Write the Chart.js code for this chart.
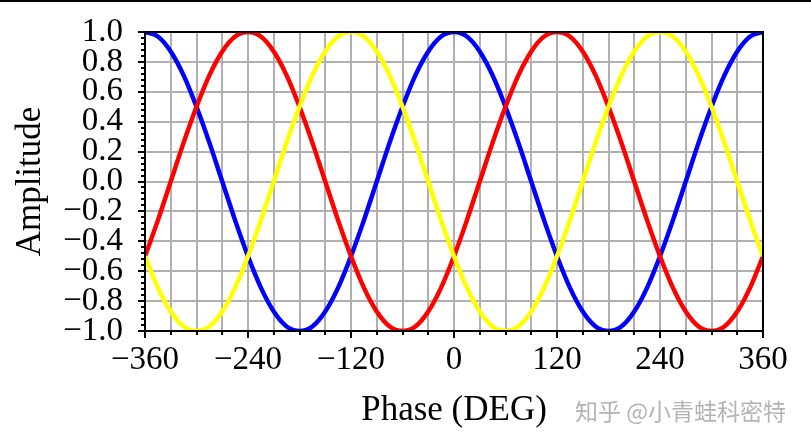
<!DOCTYPE html>
<html>
<head>
<meta charset="utf-8">
<script src="https://cdn.jsdelivr.net/npm/chart.js@4.4.1/dist/chart.umd.min.js"></script>
<style>
  html, body { margin: 0; padding: 0; background: #fff; }
  #wrap { width: 811px; height: 446px; }
</style>
</head>
<body>
<div id="wrap"><canvas id="c" width="811" height="446"></canvas></div>
<script>
// phase in degrees, one point every 15 deg
const phase = [-360, -345, -330, -315, -300, -285, -270, -255, -240, -225, -210, -195, -180,
  -165, -150, -135, -120, -105, -90, -75, -60, -45, -30, -15, 0,
  15, 30, 45, 60, 75, 90, 105, 120, 135, 150, 165, 180,
  195, 210, 225, 240, 255, 270, 285, 300, 315, 330, 345, 360];

const blueWave = [1, 0.97, 0.87, 0.71, 0.5, 0.26, 0, -0.26, -0.5, -0.71, -0.87, -0.97, -1,
  -0.97, -0.87, -0.71, -0.5, -0.26, 0, 0.26, 0.5, 0.71, 0.87, 0.97, 1,
  0.97, 0.87, 0.71, 0.5, 0.26, 0, -0.26, -0.5, -0.71, -0.87, -0.97, -1,
  -0.97, -0.87, -0.71, -0.5, -0.26, 0, 0.26, 0.5, 0.71, 0.87, 0.97, 1];

const redWave = [-0.5, -0.26, 0, 0.26, 0.5, 0.71, 0.87, 0.97, 1, 0.97, 0.87, 0.71, 0.5,
  0.26, 0, -0.26, -0.5, -0.71, -0.87, -0.97, -1, -0.97, -0.87, -0.71, -0.5,
  -0.26, 0, 0.26, 0.5, 0.71, 0.87, 0.97, 1, 0.97, 0.87, 0.71, 0.5,
  0.26, 0, -0.26, -0.5, -0.71, -0.87, -0.97, -1, -0.97, -0.87, -0.71, -0.5];

const yellowWave = [-0.5, -0.71, -0.87, -0.97, -1, -0.97, -0.87, -0.71, -0.5, -0.26, 0, 0.26, 0.5,
  0.71, 0.87, 0.97, 1, 0.97, 0.87, 0.71, 0.5, 0.26, 0, -0.26, -0.5,
  -0.71, -0.87, -0.97, -1, -0.97, -0.87, -0.71, -0.5, -0.26, 0, 0.26, 0.5,
  0.71, 0.87, 0.97, 1, 0.97, 0.87, 0.71, 0.5, 0.26, 0, -0.26, -0.5];

const xMajorTicks = [-360, -240, -120, 0, 120, 240, 360];
const yMajorTicks = [-1.0, -0.8, -0.6, -0.4, -0.2, 0.0, 0.2, 0.4, 0.6, 0.8, 1.0];

const serif = "'Liberation Serif', 'DejaVu Serif', serif";
const minus = s => s.replace('-', '\u2212');

function pts(ys) {
  return phase.map((p, i) => ({ x: p, y: ys[i] }));
}

// frame, tick marks, top rule and watermark
const decorations = {
  id: 'decorations',
  afterDraw(chart) {
    const ctx = chart.ctx;
    const a = chart.chartArea;
    const xs = chart.scales.x, ys = chart.scales.y;
    ctx.save();
    ctx.fillStyle = '#000';
    ctx.fillRect(0, 0, chart.width, 2);

    ctx.strokeStyle = '#000';
    ctx.lineWidth = 2;
    ctx.strokeRect(a.left, a.top, a.right - a.left, a.bottom - a.top);

    ctx.beginPath();
    for (let v = -360; v <= 360; v += 30) {
      const px = Math.round(xs.getPixelForValue(v));
      const len = xMajorTicks.includes(v) ? 7 : 4;
      ctx.moveTo(px, a.bottom);
      ctx.lineTo(px, a.bottom + len);
    }
    for (let k = -25; k <= 25; k++) {
      const v = k * 0.04;
      const py = Math.round(ys.getPixelForValue(v));
      const len = k % 5 === 0 ? 7 : 4;
      ctx.moveTo(a.left, py);
      ctx.lineTo(a.left - len, py);
    }
    ctx.stroke();

    ctx.fillStyle = '#b3b3b3';
    ctx.font = "23px 'Noto Sans CJK SC', sans-serif";
    ctx.textBaseline = 'middle';
    ctx.textAlign = 'left';
    ctx.fillText('知乎 @小青蛙科密特', 575, 411);
    ctx.restore();
  }
};

new Chart(document.getElementById('c'), {
  type: 'line',
  data: {
    datasets: [
      { label: 'blue', data: pts(blueWave), borderColor: '#0000ff', order: 3 },
      { label: 'red', data: pts(redWave), borderColor: '#ff0000', order: 2 },
      { label: 'yellow', data: pts(yellowWave), borderColor: '#ffff00', order: 1 }
    ]
  },
  options: {
    responsive: false,
    animation: false,
    layout: { padding: { top: 32, right: 48, left: 0, bottom: 0 } },
    elements: {
      point: { radius: 0 },
      line: { borderWidth: 4.5, cubicInterpolationMode: 'monotone', fill: false }
    },
    plugins: { legend: { display: false }, tooltip: { enabled: false } },
    scales: {
      x: {
        type: 'linear',
        min: -360,
        max: 360,
        afterFit: s => { s.height = 115; s.paddingLeft = 0; s.paddingRight = 0; },
        ticks: {
          stepSize: 30,
          autoSkip: false,
          maxRotation: 0,
          padding: 10,
          color: '#000',
          font: { family: serif, size: 33 },
          callback: v => xMajorTicks.includes(v) ? minus(String(v)) : ''
        },
        grid: { color: '#b0b0b0', lineWidth: 2, drawTicks: false },
        border: { display: false },
        title: {
          display: true,
          text: 'Phase (DEG)',
          color: '#000',
          font: { family: serif, size: 35 },
          padding: { top: 0, bottom: 14 }
        }
      },
      y: {
        min: -1,
        max: 1,
        afterFit: s => { s.width = 145; s.paddingTop = 0; s.paddingBottom = 0; },
        afterBuildTicks: s => { s.ticks = yMajorTicks.map(v => ({ value: v })); },
        ticks: {
          autoSkip: false,
          padding: 22,
          color: '#000',
          font: { family: serif, size: 33 },
          callback: v => minus(Number(v).toFixed(1))
        },
        grid: { color: '#b0b0b0', lineWidth: 2, drawTicks: false },
        border: { display: false },
        title: {
          display: true,
          text: 'Amplitude',
          color: '#000',
          font: { family: serif, size: 35 },
          padding: { top: 10, bottom: 0 }
        }
      }
    }
  },
  plugins: [decorations]
});
</script>
</body>
</html>
